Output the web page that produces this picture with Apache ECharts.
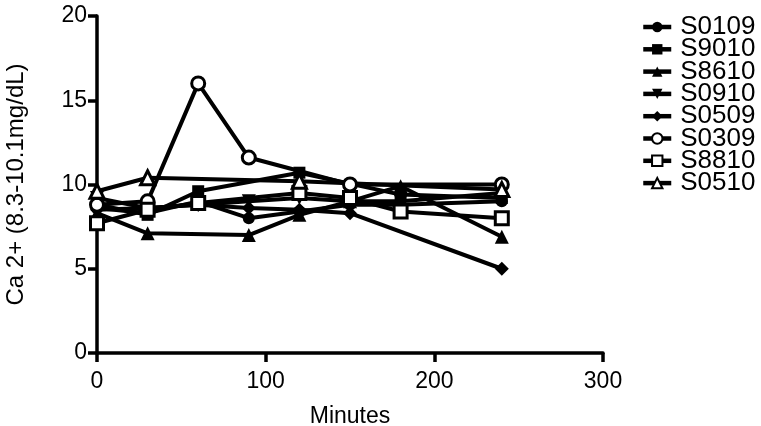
<!DOCTYPE html>
<html><head><meta charset="utf-8">
<script src="https://cdn.jsdelivr.net/npm/echarts@6/dist/echarts.min.js"></script>
<style>html,body{margin:0;padding:0;background:#fff}#c{width:761px;height:426px}</style>
</head><body><div id="c"></div>
<script>
var minutes = [0, 30, 60, 90, 120, 150, 180, 240];
var S0109 = [8.6, 8.3, 9.0, 8.0, 8.4, 8.8, 8.8, 9.0];
var S9010 = [8.8, 8.2, 9.6, null, 10.7, null, 9.4, 9.2];
var S8610 = [8.3, 7.1, null, 7.0, 8.2, 9.0, 9.9, 6.9];
var S0910 = [9.2, 8.6, 8.8, 9.0, 9.2, 9.0, 9.0, 9.5];
var S0509 = [8.5, 8.6, 8.8, 8.6, 8.5, 8.3, null, 5.0];
var S0309 = [8.8, 9.0, 16.0, 11.6, null, 10.0, null, 10.0];
var S8810 = [7.7, 8.5, 8.9, null, 9.5, 9.2, 8.4, 8.0];
var S0510 = [9.6, 10.4, null, null, 10.2, null, null, 9.7];
var seriesNames = ['S0109','S9010','S8610','S0910','S0509','S0309','S8810','S0510'];
var xTicks = [0, 100, 200, 300];
var yTicks = [0, 5, 10, 15, 20];

var values = [S0109, S9010, S8610, S0910, S0509, S0309, S8810, S0510];
var symbols = ['circle','rect','triangle','triangle','diamond','circle','rect','triangle'];
var rotates = [0,0,0,180,0,0,0,0];
var hollow = [false,false,false,false,false,true,true,true];
var sizes = [12,12,14,14,14,13,13,14];
var font = 'Arial, "Liberation Sans", sans-serif';

var series = seriesNames.map(function(n, i){
  return {
    name: n, type: 'line', connectNulls: true,
    data: minutes.map(function(m, j){ return [m, values[i][j]]; }).filter(function(p){ return p[1] !== null; }),
    symbol: symbols[i], symbolRotate: rotates[i], symbolSize: sizes[i],
    showAllSymbol: true,
    lineStyle: {color: '#000', width: 4},
    itemStyle: hollow[i] ? {color: '#fff', borderColor: '#000', borderWidth: 3} : {color: '#000', borderColor: '#000', borderWidth: 0},
    emphasis: {disabled: true},
    animation: false
  };
});

var chart = echarts.init(document.getElementById('c'), null, {renderer: 'canvas'});
chart.setOption({
  animation: false,
  backgroundColor: '#fff',
  grid: {left: 97, right: 158, top: 16, bottom: 73, containLabel: false, outerBoundsMode: 'none'},
  legend: {
    orient: 'vertical', left: 636, top: 9,
    itemWidth: 28, itemHeight: 13, itemGap: -3.7,
    lineStyle: {width: 4.5, color: '#000'},
    textStyle: {fontSize: 26, fontFamily: font, color: '#000', padding: [0,0,0,4]},
    data: seriesNames
  },
  xAxis: {
    type: 'value', min: 0, max: 300, interval: 100,
    name: 'Minutes', nameLocation: 'middle', nameGap: 52,
    nameTextStyle: {fontSize: 23, fontFamily: font, color: '#000'},
    axisLine: {show: true, onZero: false, lineStyle: {color: '#000', width: 3.5}},
    axisTick: {show: true, length: 9, lineStyle: {color: '#000', width: 3.5}},
    axisLabel: {fontSize: 23, fontFamily: font, color: '#000', margin: 17,
      formatter: function(v){ return xTicks.indexOf(v) >= 0 ? String(v) : ''; }},
    splitLine: {show: false}
  },
  yAxis: {
    type: 'value', min: 0, max: 20, interval: 5,
    name: 'Ca 2+ (8.3-10.1mg/dL)', nameLocation: 'middle', nameGap: 69,
    nameTextStyle: {fontSize: 24, fontFamily: font, color: '#000'},
    axisLine: {show: true, onZero: false, lineStyle: {color: '#000', width: 3.5}},
    axisTick: {show: true, length: 9, lineStyle: {color: '#000', width: 3.5}},
    axisLabel: {fontSize: 23, fontFamily: font, color: '#000', margin: 10,
      formatter: function(v){ return yTicks.indexOf(v) >= 0 ? String(v) : ''; }},
    splitLine: {show: false}
  },
  series: series
});
</script></body></html>
